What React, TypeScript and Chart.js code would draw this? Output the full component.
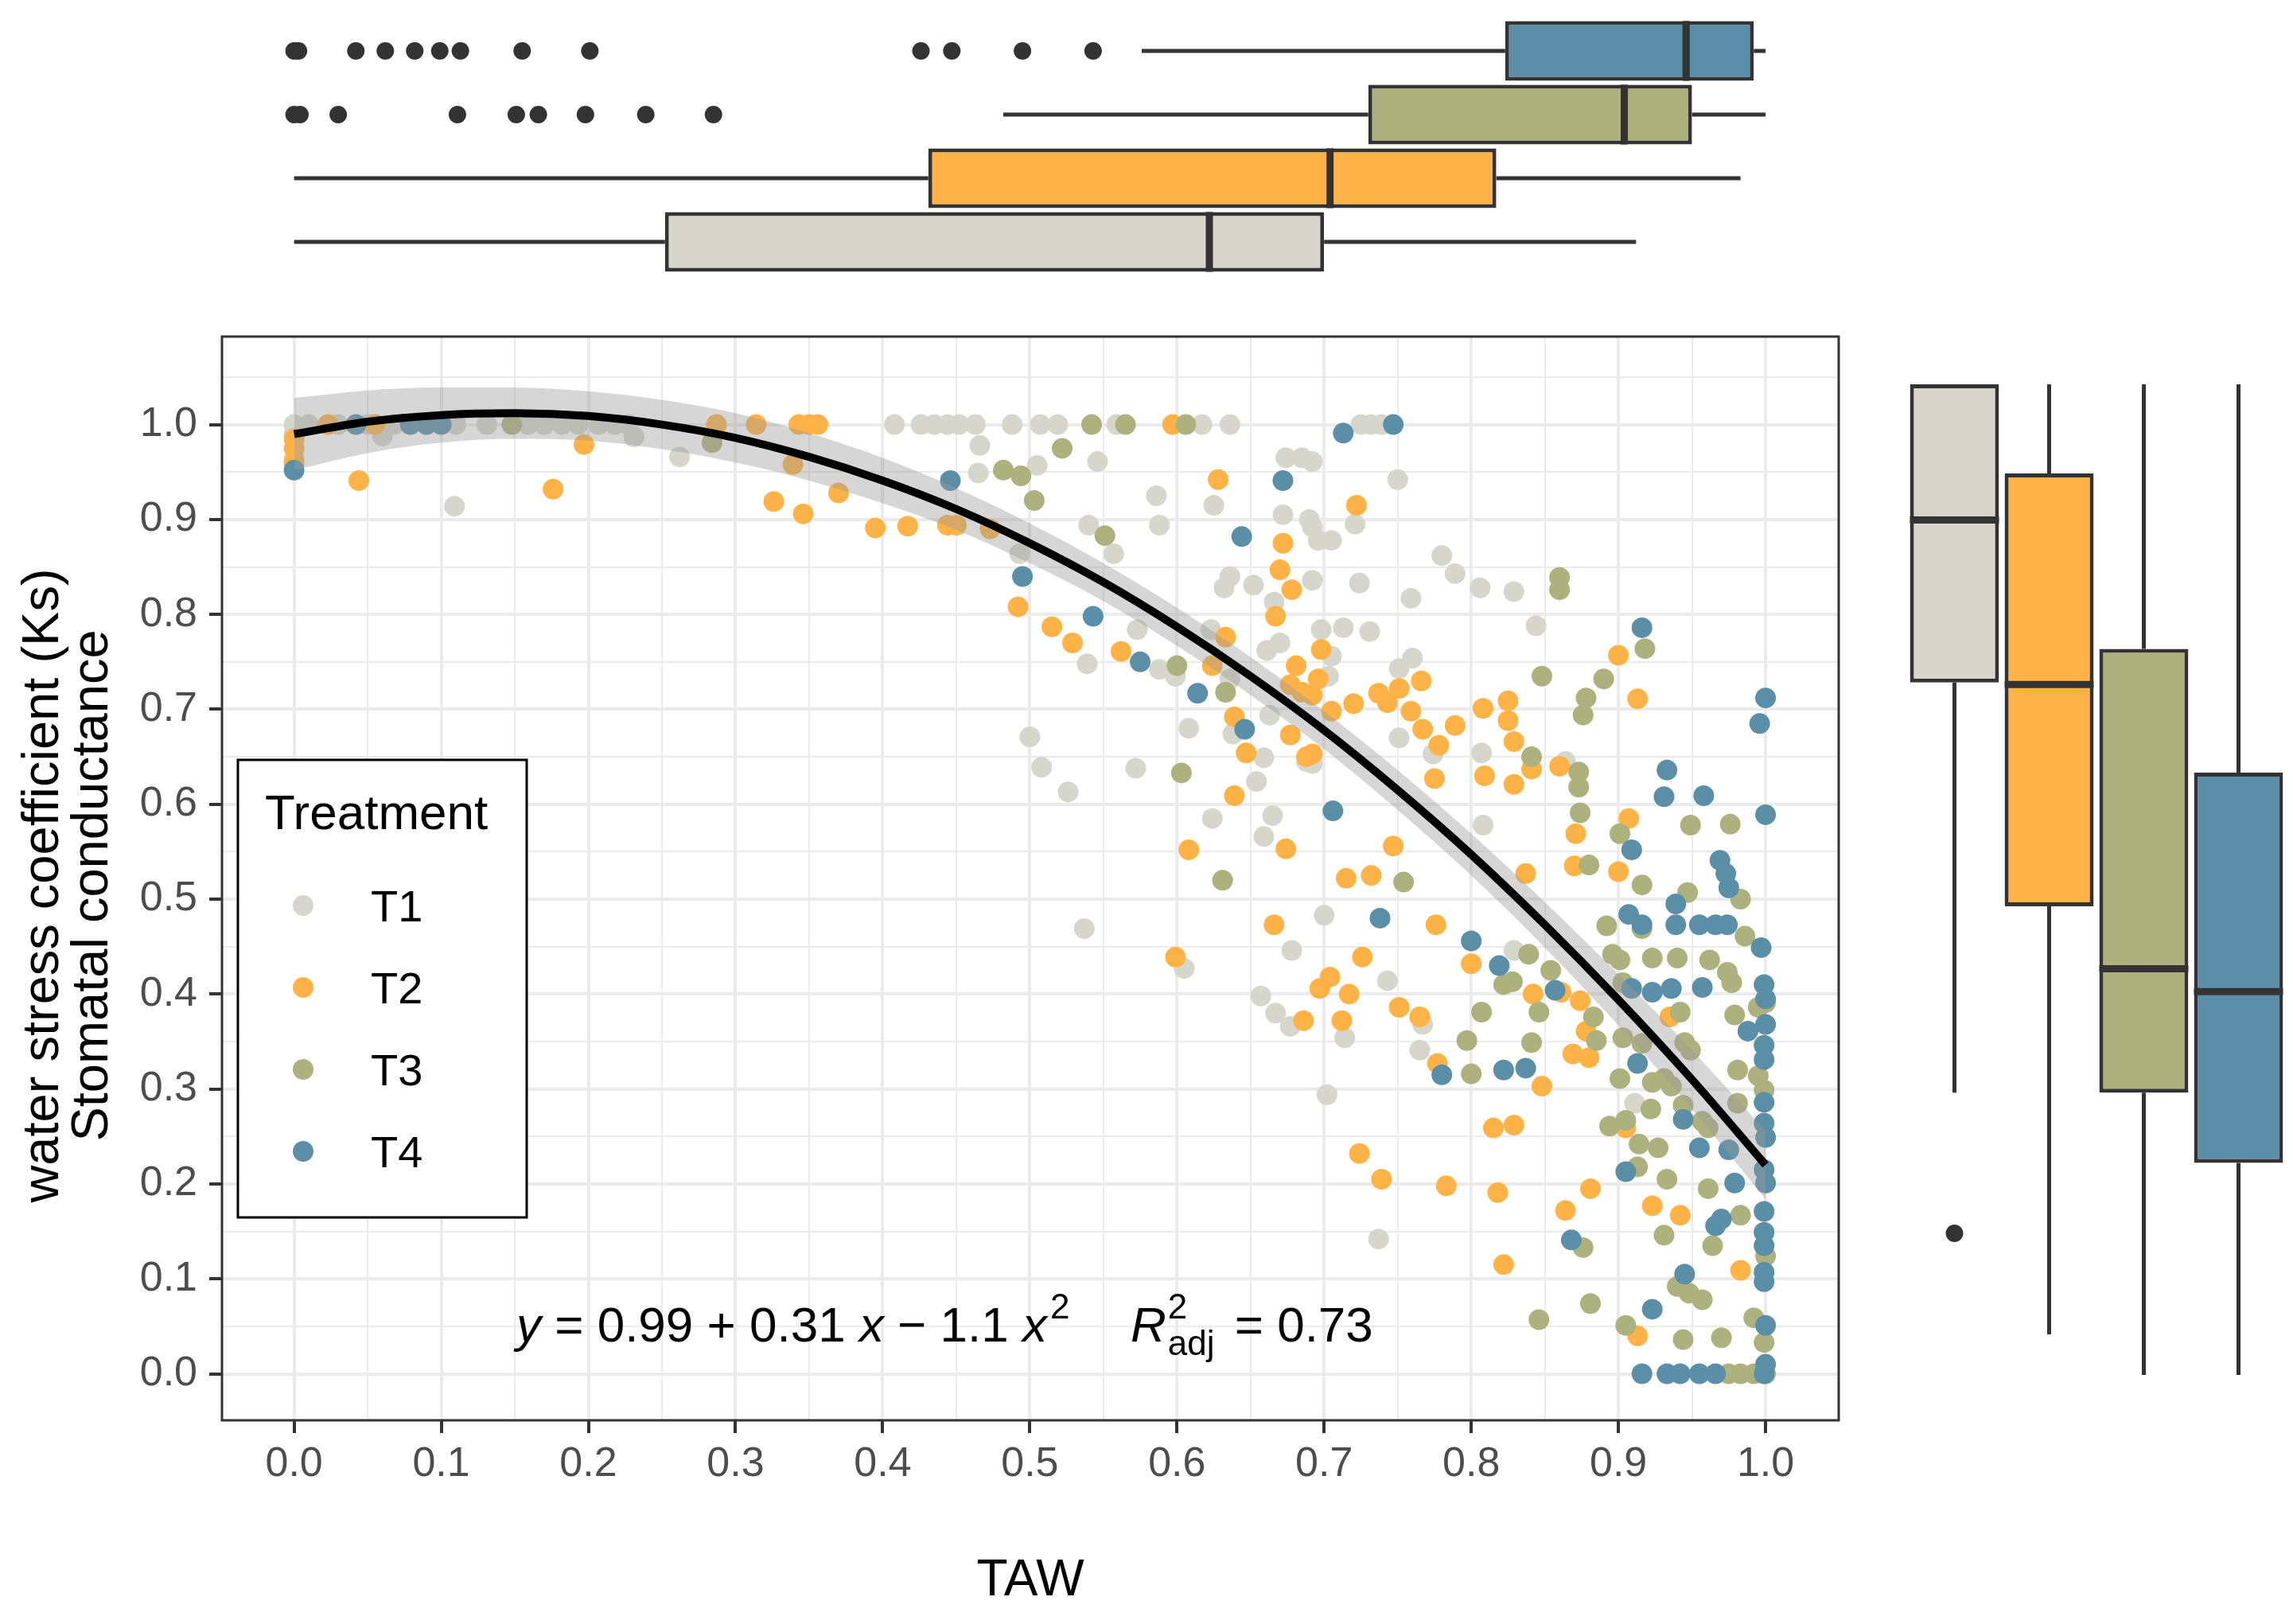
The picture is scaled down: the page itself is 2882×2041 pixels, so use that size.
import { useEffect, useRef } from "react";
import { Chart, registerables } from "chart.js";

Chart.register(...registerables);

const FONT = "'Liberation Sans', Arial, Helvetica, sans-serif";
Chart.defaults.font.family = FONT;

// ---- data ----
const treatments = ["T1", "T2", "T3", "T4"];
const colors = ["#d6d6cd", "#ffb347", "#adb17d", "#5b8fa8"];

const t1Points: [number, number][] = [
  [0, 1], [0.01, 1], [0.03, 1], [0.05, 1], [0.068, 1], [0.11, 1], [0.131, 1], [0.159, 1], [0.17, 1], [0.182, 1],
  [0.193, 1], [0.207, 1], [0.218, 1], [0.227, 1], [0, 0.99], [0, 0.965], [0.06, 0.988], [0.109, 0.914], [0.231, 0.987],
  [0.262, 0.966], [0.408, 1], [0.426, 1], [0.435, 1], [0.444, 1], [0.452, 1], [0.463, 1], [0.488, 1], [0.507, 1],
  [0.519, 1], [0.559, 1], [0.617, 1], [0.636, 1], [0.725, 1], [0.732, 1], [0.739, 1], [0.466, 0.978], [0.465, 0.949],
  [0.505, 0.957], [0.546, 0.961], [0.54, 0.894], [0.557, 0.864], [0.493, 0.864], [0.586, 0.925], [0.588, 0.894],
  [0.625, 0.915], [0.672, 0.905], [0.674, 0.965], [0.685, 0.965], [0.69, 0.9], [0.636, 0.84], [0.632, 0.828],
  [0.652, 0.831], [0.666, 0.813], [0.67, 0.77], [0.661, 0.762], [0.539, 0.748], [0.573, 0.784], [0.588, 0.742],
  [0.599, 0.735], [0.623, 0.784], [0.636, 0.732], [0.663, 0.694], [0.638, 0.674], [0.608, 0.68], [0.659, 0.649],
  [0.654, 0.624], [0.688, 0.645], [0.5, 0.671], [0.508, 0.639], [0.526, 0.613], [0.572, 0.638], [0.624, 0.585],
  [0.665, 0.588], [0.659, 0.566], [0.692, 0.961], [0.75, 0.942], [0.721, 0.895], [0.692, 0.892], [0.696, 0.878],
  [0.705, 0.878], [0.78, 0.862], [0.789, 0.843], [0.806, 0.828], [0.829, 0.824], [0.844, 0.788], [0.692, 0.836],
  [0.724, 0.833], [0.759, 0.817], [0.698, 0.784], [0.713, 0.786], [0.731, 0.782], [0.705, 0.756], [0.703, 0.735],
  [0.751, 0.743], [0.76, 0.754], [0.751, 0.67], [0.774, 0.653], [0.807, 0.654], [0.864, 0.645], [0.808, 0.578],
  [0.692, 0.643], [0.537, 0.469], [0.605, 0.427], [0.7, 0.483], [0.678, 0.446], [0.743, 0.414], [0.657, 0.398],
  [0.667, 0.38], [0.677, 0.366], [0.714, 0.354], [0.767, 0.368], [0.765, 0.341], [0.702, 0.294], [0.737, 0.142],
  [0.829, 0.446], [0.911, 0.285],
];

const t2Points: [number, number][] = [
  [0, 0.985], [0, 0.975], [0, 0.96], [0.023, 1], [0.055, 1], [0.197, 0.979], [0.287, 1], [0.314, 1], [0.343, 1],
  [0.35, 1], [0.356, 1], [0.597, 1], [0.044, 0.941], [0.176, 0.932], [0.339, 0.958], [0.326, 0.919], [0.346, 0.906],
  [0.37, 0.928], [0.395, 0.891], [0.417, 0.893], [0.444, 0.894], [0.45, 0.894], [0.473, 0.89], [0.628, 0.942],
  [0.672, 0.875], [0.67, 0.847], [0.678, 0.826], [0.667, 0.798], [0.492, 0.808], [0.515, 0.787], [0.529, 0.77],
  [0.562, 0.761], [0.633, 0.776], [0.681, 0.746], [0.624, 0.746], [0.677, 0.726], [0.685, 0.718], [0.639, 0.692],
  [0.677, 0.673], [0.647, 0.654], [0.688, 0.65], [0.639, 0.609], [0.608, 0.552], [0.674, 0.553], [0.722, 0.915],
  [0.698, 0.763], [0.696, 0.732], [0.692, 0.715], [0.766, 0.73], [0.737, 0.717], [0.751, 0.722], [0.743, 0.707],
  [0.72, 0.706], [0.705, 0.698], [0.759, 0.698], [0.767, 0.679], [0.778, 0.662], [0.789, 0.683], [0.775, 0.627],
  [0.692, 0.653], [0.808, 0.701], [0.825, 0.709], [0.825, 0.688], [0.829, 0.666], [0.809, 0.63], [0.829, 0.621],
  [0.841, 0.637], [0.86, 0.64], [0.9, 0.757], [0.913, 0.711], [0.747, 0.556], [0.715, 0.522], [0.732, 0.525],
  [0.907, 0.585], [0.871, 0.569], [0.87, 0.535], [0.9, 0.529], [0.837, 0.527], [0.599, 0.439], [0.666, 0.473],
  [0.726, 0.439], [0.776, 0.473], [0.704, 0.418], [0.697, 0.406], [0.717, 0.4], [0.686, 0.372], [0.712, 0.372],
  [0.751, 0.386], [0.765, 0.376], [0.8, 0.432], [0.777, 0.327], [0.848, 0.303], [0.842, 0.4], [0.861, 0.402],
  [0.874, 0.393], [0.878, 0.361], [0.869, 0.337], [0.88, 0.333], [0.935, 0.376], [0.815, 0.259], [0.829, 0.262],
  [0.905, 0.259], [0.724, 0.232], [0.739, 0.205], [0.783, 0.198], [0.818, 0.191], [0.822, 0.115], [0.864, 0.172],
  [0.881, 0.195], [0.923, 0.177], [0.942, 0.167], [0.983, 0.109], [0.913, 0.04],
];

const t3Points: [number, number][] = [
  [0.148, 1], [0.284, 0.981], [0.542, 1], [0.565, 1], [0.606, 1], [0.522, 0.975], [0.482, 0.952], [0.494, 0.946],
  [0.503, 0.92], [0.551, 0.883], [0.6, 0.746], [0.633, 0.718], [0.603, 0.633], [0.631, 0.52], [0.86, 0.839],
  [0.86, 0.826], [0.848, 0.735], [0.89, 0.732], [0.878, 0.712], [0.876, 0.694], [0.918, 0.764], [0.841, 0.65],
  [0.873, 0.634], [0.873, 0.618], [0.874, 0.591], [0.901, 0.569], [0.949, 0.578], [0.976, 0.579], [0.88, 0.536],
  [0.916, 0.515], [0.754, 0.518], [0.947, 0.507], [0.983, 0.5], [0.892, 0.472], [0.916, 0.469], [0.986, 0.461],
  [0.839, 0.442], [0.896, 0.442], [0.901, 0.436], [0.923, 0.438], [0.94, 0.438], [0.962, 0.436], [0.854, 0.425],
  [0.822, 0.41], [0.828, 0.413], [0.903, 0.412], [0.974, 0.423], [0.977, 0.412], [0.807, 0.381], [0.846, 0.381],
  [0.883, 0.376], [0.942, 0.381], [0.979, 0.378], [0.995, 0.386], [1.0, 0.391], [0.797, 0.351], [0.841, 0.349],
  [0.885, 0.351], [0.903, 0.354], [0.916, 0.348], [0.945, 0.349], [0.949, 0.341], [0.8, 0.316], [0.901, 0.311],
  [0.923, 0.307], [0.931, 0.311], [0.936, 0.303], [0.981, 0.32], [0.995, 0.314], [0.999, 0.299], [0.894, 0.261],
  [0.905, 0.267], [0.922, 0.279], [0.944, 0.283], [0.957, 0.266], [0.961, 0.259], [0.981, 0.285], [0.914, 0.242],
  [0.927, 0.238], [0.913, 0.218], [0.933, 0.205], [0.961, 0.195], [0.983, 0.167], [1.0, 0.124], [0.876, 0.133],
  [0.931, 0.146], [0.964, 0.135], [0.94, 0.092], [0.948, 0.085], [0.957, 0.078], [0.881, 0.074], [0.846, 0.057],
  [0.905, 0.051], [0.944, 0.036], [0.97, 0.038], [0.992, 0.059], [0.999, 0.033], [0.975, 0], [0.983, 0],
  [0.992, 0], [1.0, 0],
];

const t4Points: [number, number][] = [
  [0, 0.952], [0.042, 1], [0.079, 1], [0.09, 1], [0.1, 1], [0.713, 0.991], [0.747, 1], [0.446, 0.941], [0.672, 0.941],
  [0.644, 0.882], [0.495, 0.84], [0.543, 0.798], [0.575, 0.75], [0.614, 0.717], [0.646, 0.679], [0.706, 0.593],
  [0.916, 0.786], [1.0, 0.712], [0.996, 0.685], [0.933, 0.636], [0.931, 0.608], [0.958, 0.609], [1.0, 0.589],
  [0.909, 0.552], [0.969, 0.541], [0.973, 0.527], [0.975, 0.512], [0.738, 0.48], [0.8, 0.456], [0.819, 0.43],
  [0.939, 0.495], [0.939, 0.473], [0.907, 0.484], [0.916, 0.473], [0.955, 0.473], [0.966, 0.473], [0.974, 0.473],
  [0.997, 0.449], [0.909, 0.406], [0.923, 0.402], [0.936, 0.406], [0.957, 0.407], [0.999, 0.41], [1.0, 0.395],
  [1.0, 0.368], [0.988, 0.361], [0.999, 0.346], [0.999, 0.331], [0.913, 0.327], [0.822, 0.32], [0.837, 0.322],
  [0.78, 0.315], [0.857, 0.404], [0.944, 0.268], [0.955, 0.238], [0.975, 0.236], [0.999, 0.286], [0.999, 0.264],
  [1.0, 0.249], [0.905, 0.213], [0.999, 0.215], [1.0, 0.201], [0.979, 0.201], [0.97, 0.163], [0.966, 0.156],
  [0.999, 0.171], [0.999, 0.149], [0.999, 0.135], [0.868, 0.141], [0.945, 0.105], [0.923, 0.068], [0.999, 0.107],
  [0.999, 0.097], [1.0, 0.051], [0.916, 0], [0.933, 0], [0.942, 0], [0.955, 0], [0.966, 0], [0.999, 0], [1.0, 0.01],
];

// quadratic fit and its confidence band
const fitX = [0, 0.05, 0.1, 0.15, 0.2, 0.25, 0.3, 0.35, 0.4, 0.45, 0.5, 0.55, 0.6, 0.65, 0.7, 0.75, 0.8, 0.85, 0.9, 0.95, 1.0];
const fitY = [0.99, 1.003, 1.01, 1.012, 1.009, 1.0, 0.986, 0.966, 0.941, 0.911, 0.875, 0.834, 0.787, 0.735, 0.678, 0.615, 0.547, 0.473, 0.394, 0.31, 0.22];
const bandUpper = [1.028, 1.036, 1.039, 1.039, 1.035, 1.026, 1.012, 0.991, 0.965, 0.933, 0.896, 0.854, 0.807, 0.755, 0.698, 0.636, 0.569, 0.497, 0.421, 0.341, 0.256];
const bandLower = [0.952, 0.97, 0.981, 0.985, 0.983, 0.974, 0.96, 0.941, 0.917, 0.889, 0.854, 0.814, 0.767, 0.715, 0.658, 0.594, 0.525, 0.449, 0.367, 0.279, 0.184];

// axis ticks
const xMajor = [0, 0.1, 0.2, 0.3, 0.4, 0.5, 0.6, 0.7, 0.8, 0.9, 1.0];
const xMinor = [0.05, 0.15, 0.25, 0.35, 0.45, 0.55, 0.65, 0.75, 0.85, 0.95];
const yMajor = [0, 0.1, 0.2, 0.3, 0.4, 0.5, 0.6, 0.7, 0.8, 0.9, 1.0];
const yMinor = [0.05, 0.15, 0.25, 0.35, 0.45, 0.55, 0.65, 0.75, 0.85, 0.95, 1.05];

// marginal boxplot of TAW (top), order T1..T4
const tawLo = [0, 0, 0.482, 0.576];
const tawQ1 = [0.252, 0.431, 0.73, 0.823];
const tawMed = [0.622, 0.704, 0.904, 0.946];
const tawQ3 = [0.7, 0.817, 0.95, 0.992];
const tawHi = [0.912, 0.983, 1.0, 1.0];
const tawOutT3 = [0, 0.004, 0.03, 0.111, 0.151, 0.166, 0.198, 0.239, 0.285];
const tawOutT4 = [0, 0.003, 0.042, 0.062, 0.082, 0.099, 0.113, 0.155, 0.201, 0.426, 0.447, 0.495, 0.543];

// marginal boxplot of Ks (right), order T1..T4
const ksLo = [0.285, 0.041, 0, 0];
const ksQ1 = [0.699, 0.473, 0.285, 0.214];
const ksMed = [0.863, 0.697, 0.41, 0.387];
const ksQ3 = [1.0, 0.91, 0.733, 0.608];
const ksHi = [1.0, 1.0, 1.0, 1.0];
const ksOutT1 = [0.143];

const X_MIN = -0.049;
const X_MAX = 1.0497;
const DARK = "#333333";

const isMajor = (v: number) => Math.abs(v * 10 - Math.round(v * 10)) < 1e-6;

const drawEquation = (ctx: CanvasRenderingContext2D) => {
  const base = 1686;
  let x = 649;
  const seg = (t: string, style: string, size = 62, dy = 0) => {
    ctx.font = `${style} ${size}px ${FONT}`;
    ctx.fillText(t, x, base + dy);
    x += ctx.measureText(t).width;
  };
  ctx.fillStyle = "#000";
  ctx.textAlign = "left";
  ctx.textBaseline = "alphabetic";
  seg("y", "italic");
  seg(" = 0.99 + 0.31 ", "normal");
  seg("x", "italic");
  seg(" \u2212 1.1 ", "normal");
  seg("x", "italic");
  x += 4;
  seg("2", "normal", 44, -29);
  x = 1421;
  seg("R", "italic");
  const rEnd = x + 2;
  x = rEnd;
  seg("2", "normal", 44, -29);
  const supEnd = x;
  x = rEnd;
  seg("adj", "normal", 44, 17);
  x = Math.max(x, supEnd) + 8;
  seg(" = 0.73", "normal");
};

const drawLegend = (ctx: CanvasRenderingContext2D) => {
  ctx.fillStyle = "#fff";
  ctx.fillRect(299, 955, 363, 575);
  ctx.strokeStyle = "#000";
  ctx.lineWidth = 3;
  ctx.strokeRect(299, 955, 363, 575);
  ctx.fillStyle = "#000";
  ctx.textAlign = "left";
  ctx.textBaseline = "alphabetic";
  ctx.font = `62px ${FONT}`;
  ctx.fillText("Treatment", 333, 1042);
  const rows = [1138, 1241, 1344, 1447];
  treatments.forEach((t, i) => {
    ctx.fillStyle = colors[i];
    ctx.beginPath();
    ctx.arc(381, rows[i], 13, 0, Math.PI * 2);
    ctx.fill();
    ctx.fillStyle = "#000";
    ctx.font = `56px ${FONT}`;
    ctx.fillText(t, 466, rows[i] + 20);
  });
};

const MainChart = () => {
  const ref = useRef<HTMLCanvasElement | null>(null);

  useEffect(() => {
    if (!ref.current) return;
    const ctx = ref.current.getContext("2d");
    if (!ctx) return;

    const overlay = {
      id: "overlay",
      afterDraw(chart: any) {
        const c = chart.ctx as CanvasRenderingContext2D;
        const a = chart.chartArea;
        c.save();
        c.strokeStyle = DARK;
        c.lineWidth = 3;
        c.strokeRect(a.left, a.top, a.right - a.left, a.bottom - a.top);
        drawEquation(c);
        drawLegend(c);
        c.restore();
      },
    };

    const series = [t1Points, t2Points, t3Points, t4Points];
    const pointSets = series.map((pts, i) => ({
      type: "scatter" as const,
      label: treatments[i],
      data: pts.map(([x, y]) => ({ x, y })),
      backgroundColor: colors[i],
      borderWidth: 0,
      pointRadius: 13,
      order: 6 - i,
    }));

    const chart = new Chart(ctx, {
      type: "scatter",
      data: {
        datasets: [
          {
            type: "line",
            label: "fit",
            data: fitX.map((x, i) => ({ x, y: fitY[i] })),
            borderColor: "#000",
            borderWidth: 10,
            pointRadius: 0,
            cubicInterpolationMode: "monotone",
            fill: false,
            order: 0,
          },
          {
            type: "line",
            label: "upper",
            data: fitX.map((x, i) => ({ x, y: bandUpper[i] })),
            borderColor: "rgba(0,0,0,0)",
            borderWidth: 0,
            pointRadius: 0,
            cubicInterpolationMode: "monotone",
            backgroundColor: "rgba(153,153,153,0.4)",
            fill: "+1",
            order: 1,
          },
          {
            type: "line",
            label: "lower",
            data: fitX.map((x, i) => ({ x, y: bandLower[i] })),
            borderColor: "rgba(0,0,0,0)",
            borderWidth: 0,
            pointRadius: 0,
            cubicInterpolationMode: "monotone",
            fill: false,
            order: 2,
          },
          ...pointSets,
        ] as any,
      },
      options: {
        responsive: false,
        animation: false,
        layout: { autoPadding: false, padding: { left: 0, top: 423, right: 19, bottom: 0 } },
        plugins: { legend: { display: false }, tooltip: { enabled: false } },
        scales: {
          x: {
            type: "linear",
            min: X_MIN,
            max: X_MAX,
            afterBuildTicks: (s: any) => {
              s.ticks = [...xMajor, ...xMinor].sort((a, b) => a - b).map((v) => ({ value: v }));
            },
            afterFit: (s: any) => {
              s.height = 256;
            },
            border: { display: false },
            grid: {
              color: "#ebebeb",
              lineWidth: (c: any) => (isMajor(c.tick.value) ? 4 : 2),
              drawTicks: true,
              tickLength: 16,
              tickWidth: 4,
              tickColor: (c: any) => (isMajor(c.tick.value) ? DARK : "rgba(0,0,0,0)"),
            },
            ticks: {
              autoSkip: false,
              maxRotation: 0,
              padding: 8,
              color: "#4d4d4d",
              font: { size: 52, family: FONT },
              callback: (v: any) => (isMajor(Number(v)) ? Number(v).toFixed(1) : ""),
            },
            title: {
              display: true,
              text: "TAW",
              color: "#000",
              font: { size: 64, family: FONT, lineHeight: 1.1 },
              padding: { top: 0, bottom: 18 },
            },
          },
          y: {
            type: "linear",
            min: -0.049,
            max: 1.0927,
            afterBuildTicks: (s: any) => {
              s.ticks = [...yMajor, ...yMinor].sort((a, b) => a - b).map((v) => ({ value: v }));
            },
            afterFit: (s: any) => {
              s.width = 279;
            },
            border: { display: false },
            grid: {
              color: "#ebebeb",
              lineWidth: (c: any) => (isMajor(c.tick.value) ? 4 : 2),
              drawTicks: true,
              tickLength: 16,
              tickWidth: 4,
              tickColor: (c: any) => (isMajor(c.tick.value) ? DARK : "rgba(0,0,0,0)"),
            },
            ticks: {
              autoSkip: false,
              padding: 15,
              color: "#4d4d4d",
              font: { size: 52, family: FONT },
              callback: (v: any) => (isMajor(Number(v)) ? Number(v).toFixed(1) : ""),
            },
            title: {
              display: true,
              text: ["water stress coefficient (Ks) ", "Stomatal conductance "],
              color: "#000",
              font: { size: 65, family: FONT, lineHeight: 0.95 },
              padding: { top: 24, bottom: 0 },
            },
          },
        },
      } as any,
      plugins: [overlay],
    });

    return () => {
      chart.destroy();
    };
  }, []);

  return (
    <canvas
      ref={ref}
      width={2330}
      height={2041}
      style={{ position: "absolute", left: 0, top: 0, width: 2330, height: 2041 }}
    />
  );
};

type BoxProps = {
  horizontal: boolean;
  labels: string[];
  fills: string[];
  lo: number[];
  q1: number[];
  med: number[];
  q3: number[];
  hi: number[];
  outliers: { t: string; v: number }[];
  min: number;
  max: number;
  style: React.CSSProperties;
  w: number;
  h: number;
};

const BoxChart = (p: BoxProps) => {
  const ref = useRef<HTMLCanvasElement | null>(null);

  useEffect(() => {
    if (!ref.current) return;
    const ctx = ref.current.getContext("2d");
    if (!ctx) return;

    const whiskers = {
      id: "whiskers",
      beforeDatasetsDraw(chart: any) {
        const c = chart.ctx as CanvasRenderingContext2D;
        const vs = p.horizontal ? chart.scales.x : chart.scales.y;
        const cs = p.horizontal ? chart.scales.y : chart.scales.x;
        c.save();
        c.strokeStyle = DARK;
        c.lineWidth = 5;
        const seg = (pos: number, a: number, b: number) => {
          c.beginPath();
          if (p.horizontal) {
            c.moveTo(vs.getPixelForValue(a), pos);
            c.lineTo(vs.getPixelForValue(b), pos);
          } else {
            c.moveTo(pos, vs.getPixelForValue(a));
            c.lineTo(pos, vs.getPixelForValue(b));
          }
          c.stroke();
        };
        p.labels.forEach((_, i) => {
          const pos = cs.getPixelForValue(i);
          if (p.lo[i] < p.q1[i]) seg(pos, p.lo[i], p.q1[i]);
          if (p.hi[i] > p.q3[i]) seg(pos, p.q3[i], p.hi[i]);
        });
        c.restore();
      },
      afterDatasetsDraw(chart: any) {
        const c = chart.ctx as CanvasRenderingContext2D;
        const vs = p.horizontal ? chart.scales.x : chart.scales.y;
        const meta = chart.getDatasetMeta(0);
        c.save();
        c.strokeStyle = DARK;
        c.lineWidth = 9;
        p.labels.forEach((_, i) => {
          const bar = meta.data[i] as any;
          const m = vs.getPixelForValue(p.med[i]);
          c.beginPath();
          if (p.horizontal) {
            c.moveTo(m, bar.y - bar.height / 2);
            c.lineTo(m, bar.y + bar.height / 2);
          } else {
            c.moveTo(bar.x - bar.width / 2, m);
            c.lineTo(bar.x + bar.width / 2, m);
          }
          c.stroke();
        });
        c.restore();
      },
    };

    const chart = new Chart(ctx, {
      type: "bar",
      data: {
        labels: p.labels,
        datasets: [
          {
            type: "bar",
            data: p.labels.map((_, i) => [p.q1[i], p.q3[i]]),
            backgroundColor: p.fills,
            borderColor: DARK,
            borderWidth: 5,
            borderSkipped: false,
            barPercentage: 0.94,
            categoryPercentage: 1,
            order: 1,
          },
          {
            type: "scatter",
            data: p.outliers.map((o) => (p.horizontal ? { x: o.v, y: o.t } : { x: o.t, y: o.v })),
            backgroundColor: DARK,
            borderWidth: 0,
            pointRadius: 11,
            order: 0,
          },
        ] as any,
      },
      options: {
        indexAxis: p.horizontal ? "y" : "x",
        responsive: false,
        animation: false,
        layout: { autoPadding: false, padding: 0 },
        plugins: { legend: { display: false }, tooltip: { enabled: false } },
        scales: p.horizontal
          ? {
              x: { type: "linear", min: p.min, max: p.max, display: false },
              y: { type: "category", display: false, offset: true },
            }
          : {
              x: { type: "category", display: false, offset: true },
              y: { type: "linear", min: p.min, max: p.max, display: false },
            },
      } as any,
      plugins: [whiskers],
    });

    return () => {
      chart.destroy();
    };
  }, []);

  return <canvas ref={ref} width={p.w} height={p.h} style={{ position: "absolute", width: p.w, height: p.h, ...p.style }} />;
};

const rev = <T,>(a: T[]) => [...a].reverse();

export default function App() {
  const topOutliers = [
    ...tawOutT3.map((v) => ({ t: "T3", v })),
    ...tawOutT4.map((v) => ({ t: "T4", v })),
  ];
  const rightOutliers = ksOutT1.map((v) => ({ t: "T1", v }));

  return (
    <div
      style={{
        position: "fixed",
        left: 0,
        top: 0,
        width: 2882,
        height: 2041,
        background: "#fff",
        overflow: "hidden",
      }}
    >
      <MainChart />
      <BoxChart
        horizontal
        labels={rev(treatments)}
        fills={rev(colors)}
        lo={rev(tawLo)}
        q1={rev(tawQ1)}
        med={rev(tawMed)}
        q3={rev(tawQ3)}
        hi={rev(tawHi)}
        outliers={topOutliers}
        min={X_MIN}
        max={X_MAX}
        w={2032}
        h={320}
        style={{ left: 279, top: 24 }}
      />
      <BoxChart
        horizontal={false}
        labels={treatments}
        fills={colors}
        lo={ksLo}
        q1={ksQ1}
        med={ksMed}
        q3={ksQ3}
        hi={ksHi}
        outliers={rightOutliers}
        min={-0.0458}
        max={1.0482}
        w={476}
        h={1362}
        style={{ left: 2397, top: 423 }}
      />
    </div>
  );
}
